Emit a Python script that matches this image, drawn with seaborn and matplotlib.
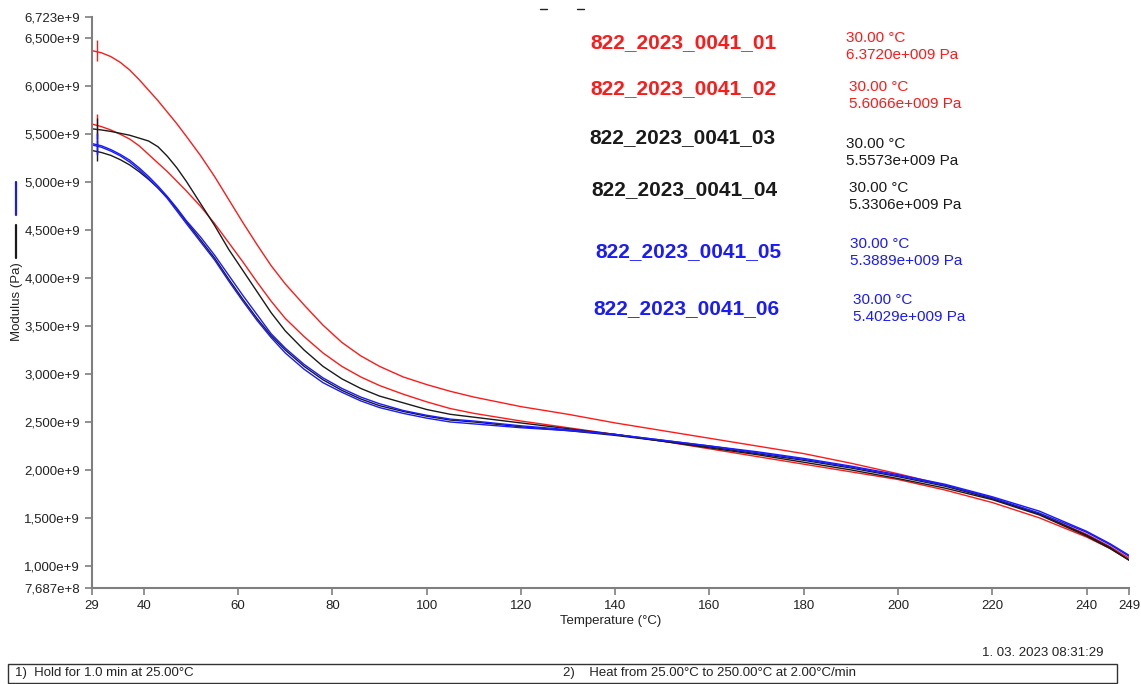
import numpy as np
import pandas as pd
import matplotlib
matplotlib.use("Agg")
import matplotlib.pyplot as plt
from matplotlib.lines import Line2D
from matplotlib.patches import Rectangle
import seaborn as sns

# Temperature grid (°C) and storage modulus of each specimen (×1e9 Pa)
temperature = [29, 31, 33, 35, 37, 39, 41, 43, 45, 47, 49, 52, 55, 58, 61, 64, 67, 70,
               74, 78, 82, 86, 90, 95, 100, 105, 110, 120, 130, 140, 150, 160, 170,
               180, 190, 200, 210, 220, 230, 240, 245, 249]

modulus_01 = [6.372, 6.35, 6.31, 6.25, 6.17, 6.07, 5.96, 5.85, 5.73, 5.61, 5.48, 5.28,
              5.06, 4.82, 4.58, 4.35, 4.13, 3.94, 3.72, 3.51, 3.33, 3.19, 3.08, 2.97,
              2.89, 2.82, 2.76, 2.66, 2.58, 2.49, 2.41, 2.33, 2.25, 2.17, 2.07, 1.96,
              1.84, 1.70, 1.54, 1.33, 1.20, 1.08]
modulus_02 = [5.607, 5.58, 5.545, 5.50, 5.45, 5.38, 5.29, 5.20, 5.11, 5.01, 4.91, 4.75,
              4.57, 4.37, 4.17, 3.96, 3.76, 3.58, 3.39, 3.22, 3.08, 2.97, 2.88, 2.79,
              2.71, 2.64, 2.59, 2.51, 2.44, 2.37, 2.30, 2.22, 2.14, 2.06, 1.98, 1.90,
              1.79, 1.66, 1.50, 1.30, 1.18, 1.06]
modulus_03 = [5.557, 5.545, 5.53, 5.51, 5.49, 5.46, 5.43, 5.37, 5.27, 5.15, 5.01, 4.78,
              4.55, 4.30, 4.08, 3.86, 3.64, 3.45, 3.25, 3.08, 2.95, 2.85, 2.77, 2.70,
              2.63, 2.58, 2.55, 2.49, 2.43, 2.37, 2.30, 2.23, 2.16, 2.08, 2.00, 1.91,
              1.81, 1.69, 1.53, 1.31, 1.18, 1.06]
modulus_04 = [5.331, 5.31, 5.28, 5.235, 5.18, 5.11, 5.03, 4.94, 4.84, 4.72, 4.59, 4.40,
              4.21, 3.99, 3.78, 3.58, 3.40, 3.25, 3.08, 2.94, 2.83, 2.74, 2.67, 2.61,
              2.56, 2.52, 2.50, 2.45, 2.41, 2.36, 2.30, 2.24, 2.17, 2.10, 2.02, 1.93,
              1.83, 1.70, 1.54, 1.32, 1.19, 1.06]
modulus_05 = [5.389, 5.365, 5.325, 5.275, 5.21, 5.13, 5.04, 4.94, 4.83, 4.70, 4.57, 4.38,
              4.19, 3.97, 3.76, 3.56, 3.38, 3.22, 3.05, 2.91, 2.81, 2.72, 2.65, 2.59,
              2.54, 2.50, 2.48, 2.44, 2.41, 2.37, 2.31, 2.25, 2.18, 2.11, 2.03, 1.94,
              1.84, 1.71, 1.55, 1.35, 1.22, 1.10]
modulus_06 = [5.403, 5.38, 5.34, 5.29, 5.23, 5.15, 5.06, 4.96, 4.85, 4.73, 4.60, 4.43,
              4.24, 4.03, 3.82, 3.62, 3.42, 3.27, 3.10, 2.96, 2.85, 2.76, 2.69, 2.62,
              2.57, 2.53, 2.51, 2.46, 2.42, 2.37, 2.31, 2.25, 2.19, 2.12, 2.04, 1.95,
              1.85, 1.72, 1.57, 1.36, 1.23, 1.11]

samples = ["822_2023_0041_01", "822_2023_0041_02", "822_2023_0041_03",
           "822_2023_0041_04", "822_2023_0041_05", "822_2023_0041_06"]
series = [modulus_01, modulus_02, modulus_03, modulus_04, modulus_05, modulus_06]
colors = ["#ff1a1a", "#ff1a1a", "#1a1a1a", "#1a1a1a", "#1a1aff", "#1a1aff"]

# Cursor readout at 30 °C
cursor_temp = 30.0
cursor_values = [6.3720e9, 5.6066e9, 5.5573e9, 5.3306e9, 5.3889e9, 5.4029e9]
cursor_text = ["6.3720e+009 Pa", "5.6066e+009 Pa", "5.5573e+009 Pa",
               "5.3306e+009 Pa", "5.3889e+009 Pa", "5.4029e+009 Pa"]

x_ticks = [29, 40, 60, 80, 100, 120, 140, 160, 180, 200, 220, 240, 249]
y_ticks = [7.687e8, 1.0e9, 1.5e9, 2.0e9, 2.5e9, 3.0e9, 3.5e9, 4.0e9, 4.5e9,
           5.0e9, 5.5e9, 6.0e9, 6.5e9, 6.723e9]
y_tick_labels = ["7,687e+8", "1,000e+9", "1,500e+9", "2,000e+9", "2,500e+9",
                 "3,000e+9", "3,500e+9", "4,000e+9", "4,500e+9", "5,000e+9",
                 "5,500e+9", "6,000e+9", "6,500e+9", "6,723e+9"]

rows = []
for name, vals in zip(samples, series):
    for t, v in zip(temperature, vals):
        rows.append({"Temperature": t, "Modulus": v * 1e9, "Sample": name})
df = pd.DataFrame(rows)

sns.set_style("ticks")
plt.rcParams["font.family"] = ["Liberation Sans", "DejaVu Sans"]

W, H = 1141, 684
fig = plt.figure(figsize=(W / 100, H / 100), dpi=100)
ax = fig.add_axes([92 / W, 1 - 588 / H, (1129 - 92) / W, (588 - 17) / H])

palette = dict(zip(samples, colors))
sns.lineplot(data=df, x="Temperature", y="Modulus", hue="Sample", palette=palette,
             linewidth=1.0, legend=False, ax=ax, sort=True, estimator=None)

# vertical cursor marks on each curve
for v, c in zip(cursor_values, colors):
    ax.vlines(cursor_temp, v - 0.11e9, v + 0.11e9, colors=c, linewidth=1.0)

ax.set_xlim(29, 249)
ax.set_ylim(7.687e8, 6.723e9)
ax.set_xticks(x_ticks)
ax.set_xticklabels([str(t) for t in x_ticks])
ax.set_yticks(y_ticks)
ax.set_yticklabels(y_tick_labels)
ax.tick_params(axis="both", labelsize=9.5, colors="#7f7f7f", labelcolor="#222222",
               length=5, width=1.2, direction="out")
for side in ["top", "right"]:
    ax.spines[side].set_visible(False)
for side in ["left", "bottom"]:
    ax.spines[side].set_color("#7f7f7f")
    ax.spines[side].set_linewidth(1.5)

ax.set_xlabel("Temperature (°C)", fontsize=9.5, color="#222222", labelpad=2)
ax.set_ylabel("")
fig.text(17 / W, 1 - 302 / H, "Modulus (Pa)", rotation=90, ha="center", va="center",
         fontsize=9.5, color="#222222")

# colour keys beside the axis title
fig.add_artist(Line2D([16 / W, 16 / W], [1 - 182 / H, 1 - 215 / H], color="#1a1aff", lw=1.6))
fig.add_artist(Line2D([16 / W, 16 / W], [1 - 225 / H, 1 - 258 / H], color="#1a1a1a", lw=1.6))

# sample names and cursor readouts
label_pos = [(590, 43), (590, 89), (589, 138), (591, 190), (595, 252), (593, 309)]
value_pos = [(846, 38), (849, 87), (846, 144), (849, 188), (850, 244), (853, 300)]
for name, c, (lx, ly), (vx, vy), txt in zip(samples, colors, label_pos, value_pos, cursor_text):
    fig.text(lx / W, 1 - ly / H, name, color=c, fontsize=15, fontweight="bold",
             ha="left", va="center")
    fig.text(vx / W, 1 - vy / H, f"{cursor_temp:.2f} °C", color=c, fontsize=11,
             ha="left", va="center")
    fig.text(vx / W, 1 - (vy + 17) / H, txt, color=c, fontsize=11,
             ha="left", va="center")

# small marks at top
fig.add_artist(Line2D([540 / W, 547 / W], [1 - 9 / H, 1 - 9 / H], color="#222222", lw=1))
fig.add_artist(Line2D([577 / W, 584 / W], [1 - 9 / H, 1 - 9 / H], color="#222222", lw=1))

# timestamp and method box
fig.text(1104 / W, 1 - 653 / H, "1. 03. 2023 08:31:29", fontsize=9.5, color="#222222",
         ha="right", va="center")
fig.add_artist(Rectangle((8 / W, 1 - 683 / H), 1109 / W, 19 / H, transform=fig.transFigure,
                         fill=False, edgecolor="#333333", linewidth=1.0))
fig.text(15 / W, 1 - 673 / H, "1)  Hold for 1.0 min at 25.00°C", fontsize=9.5,
         color="#222222", ha="left", va="center")
fig.text(563 / W, 1 - 673 / H, "2)    Heat from 25.00°C to 250.00°C at 2.00°C/min",
         fontsize=9.5, color="#222222", ha="left", va="center")

fig.savefig("out.png", dpi=100, facecolor="white")
